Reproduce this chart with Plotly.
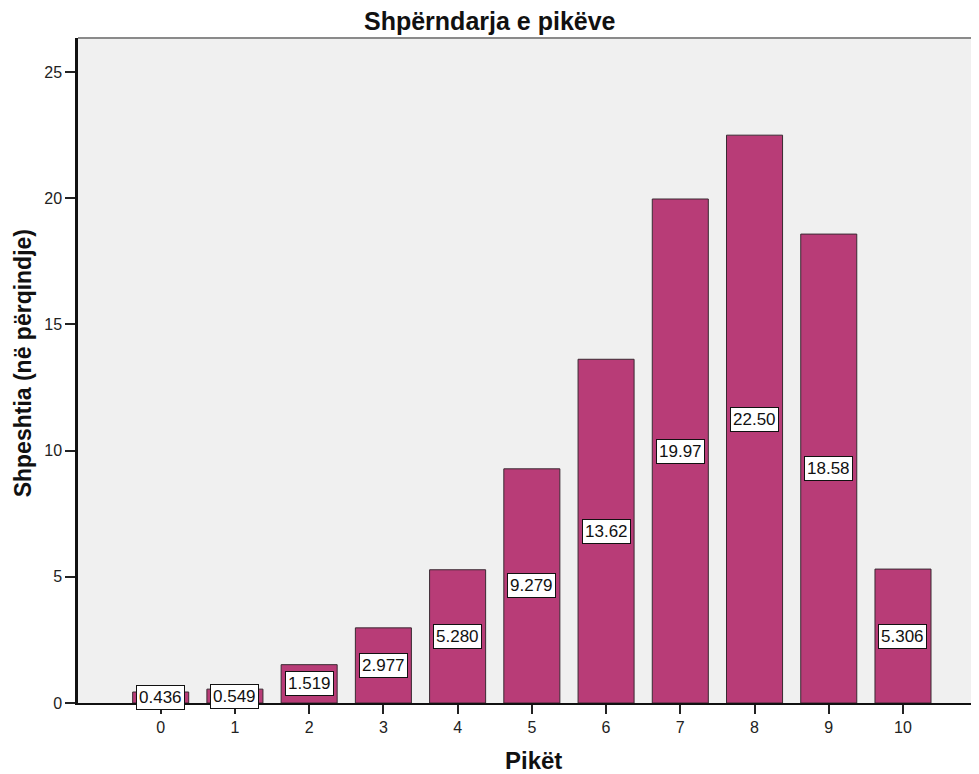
import plotly.graph_objects as go

categories = [0, 1, 2, 3, 4, 5, 6, 7, 8, 9, 10]
values = [0.436, 0.549, 1.519, 2.977, 5.280, 9.279, 13.62, 19.97, 22.50, 18.58, 5.306]
labels = ["0.436", "0.549", "1.519", "2.977", "5.280", "9.279", "13.62", "19.97", "22.50", "18.58", "5.306"]
tick_vals = [0, 5, 10, 15, 20, 25]

title_text = "Shpërndarja e pikëve"
x_title = "Pikët"
y_title = "Shpeshtia (në përqindje)"

FONT = "Liberation Sans, Arial, sans-serif"

# page has an 8px body margin; figure is sized to fill the rest
W, H = 971, 766
ML, MT, MB = 70, 30, 71

fig = go.Figure()
fig.add_trace(go.Bar(
    x=categories, y=values, width=0.755,
    marker=dict(color="#B83C77", line=dict(color="#3A2A32", width=1)),
    hoverinfo="x+y",
))

for c, v, t in zip(categories, values, labels):
    fig.add_annotation(
        x=c, y=v / 2, text=t, showarrow=False, xref="x", yref="y",
        font=dict(family=FONT, size=17, color="#111111"),
        bgcolor="white", bordercolor="#111111", borderwidth=1, borderpad=2,
    )

# top border of the plot frame
fig.add_shape(type="line", xref="paper", yref="paper", x0=0, x1=1, y0=1, y1=1,
              line=dict(color="#8A8A8A", width=2))

# chart title
fig.add_annotation(text="<b>" + title_text + "</b>", xref="paper", yref="paper",
                   x=(482 - ML) / (W - ML), y=1, yshift=MT - 13, yanchor="middle",
                   xanchor="center", showarrow=False,
                   font=dict(family=FONT, size=25, color="#111111"))
# x axis title
fig.add_annotation(text="<b>" + x_title + "</b>", xref="paper", yref="paper",
                   x=0.505, y=0, yshift=-57, yanchor="middle", xanchor="center",
                   showarrow=False, font=dict(family=FONT, size=24, color="#111111"))
# y axis title
fig.add_annotation(text="<b>" + y_title + "</b>", xref="paper", yref="paper",
                   x=0, xshift=-55.5, y=0.51, yanchor="middle", xanchor="center",
                   textangle=-90, showarrow=False,
                   font=dict(family=FONT, size=23, color="#111111"))

fig.update_layout(
    width=W, height=H,
    margin=dict(l=ML, r=0, t=MT, b=MB, pad=0),
    paper_bgcolor="white", plot_bgcolor="#F0F0F0",
    showlegend=False,
    font=dict(family=FONT, size=16, color="#222222"),
    xaxis=dict(
        range=[-1.114, 11.024], tickmode="array", tickvals=categories,
        ticktext=[str(c) for c in categories],
        showgrid=False, zeroline=False, showline=True, linecolor="#111111", linewidth=1.5,
        ticks="outside", ticklen=9, tickcolor="#222222", tickwidth=2,
        tickfont=dict(family=FONT, size=16, color="#222222"),
    ),
    yaxis=dict(
        range=[0, 26.35], tickmode="array", tickvals=tick_vals,
        showgrid=False, zeroline=False, showline=True, linecolor="#111111", linewidth=2.5,
        ticks="outside", ticklen=10, tickcolor="#222222", tickwidth=2,
        tickfont=dict(family=FONT, size=16, color="#222222"),
    ),
)

fig.write_html("out.html")
